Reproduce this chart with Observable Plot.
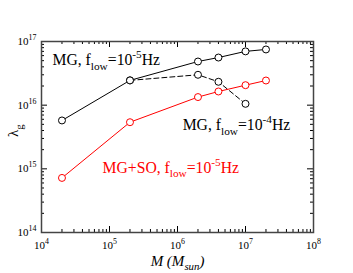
<!DOCTYPE html>
<html>
<head>
<meta charset="utf-8">
<script src="https://cdn.jsdelivr.net/npm/d3@7"></script>
<script src="https://cdn.jsdelivr.net/npm/@observablehq/plot@0.6"></script>
<style>
html,body{margin:0;padding:0;background:#fff;}
#chart svg{display:block;}
</style>
</head>
<body>
<div id="chart"></div>
<script>
// ---- data ----
const masses = [2e4, 2e5, 2e6, 4e6, 1e7, 2e7];
const mg5 = [5.75e15, 2.45e16, 4.85e16, 5.6e16, 7.0e16, 7.5e16];      // MG, f_low=1e-5 Hz
const mg4Masses = [2e5, 2e6, 4e6, 1e7];
const mg4 = [2.45e16, 3.0e16, 2.33e16, 1.05e16];                     // MG, f_low=1e-4 Hz (dashed)
const mgso5 = [7.2e14, 5.4e15, 1.34e16, 1.64e16, 2.06e16, 2.44e16];   // MG+SO, f_low=1e-5 Hz (red)

const xDecades = [1e4, 1e5, 1e6, 1e7, 1e8];
const yDecades = [1e14, 1e15, 1e16, 1e17];
const xLabels = ["10^{4}", "10^{5}", "10^{6}", "10^{7}", "10^{8}"];
const yLabels = ["10^{14}", "10^{15}", "10^{16}", "10^{17}"];

const annotations = [
  {x: 1.45e4, y: 4.3e16, text: "MG, f_{low}=10^{-5}Hz", color: "black"},
  {x: 1.19e6, y: 4.1e15, text: "MG, f_{low}=10^{-4}Hz", color: "black"},
  {x: 7.9e4, y: 8.7e14, text: "MG+SO, f_{low}=10^{-5}Hz", color: "red"}
];

// ---- tables ----
const mg5Data = masses.map((m, i) => ({m, v: mg5[i]}));
const mg4Data = mg4Masses.map((m, i) => ({m, v: mg4[i]}));
const soData = masses.map((m, i) => ({m, v: mgso5[i]}));

const minors = (decades) => {
  const out = [];
  for (let i = 0; i < decades.length - 1; i++)
    for (let k = 2; k <= 9; k++) out.push(decades[i] * k);
  return out;
};
const xMinor = minors(xDecades);
const yMinor = minors(yDecades);

const W = 353, H = 273;
const mL = 41, mR = 40, mT = 41, mB = 41;
const fw = W - mL - mR, fh = H - mT - mB;
const MAJ = 6, MIN = 3;
const serif = "'Liberation Serif', 'Times New Roman', serif";

const plot = Plot.plot({
  width: W, height: H,
  marginLeft: mL, marginRight: mR, marginTop: mT, marginBottom: mB,
  style: {fontFamily: serif, fontSize: "11px", background: "white"},
  x: {type: "log", domain: [1e4, 1e8]},
  y: {type: "log", domain: [1e14, 1e17]},
  marks: [
    // ticks inward on all four sides
    Plot.tickX(xDecades, {x: d => d, insetTop: fh - MAJ, stroke: "black"}),
    Plot.tickX(xDecades, {x: d => d, insetBottom: fh - MAJ, stroke: "black"}),
    Plot.tickX(xMinor, {x: d => d, insetTop: fh - MIN, stroke: "black"}),
    Plot.tickX(xMinor, {x: d => d, insetBottom: fh - MIN, stroke: "black"}),
    Plot.tickY(yDecades, {y: d => d, insetRight: fw - MAJ, stroke: "black"}),
    Plot.tickY(yDecades, {y: d => d, insetLeft: fw - MAJ, stroke: "black"}),
    Plot.tickY(yMinor, {y: d => d, insetRight: fw - MIN, stroke: "black"}),
    Plot.tickY(yMinor, {y: d => d, insetLeft: fw - MIN, stroke: "black"}),
    Plot.axisX({ticks: xDecades, tickSize: 0, tickPadding: 9, tickFormat: d => xLabels[xDecades.indexOf(d)], label: null, fontSize: 11}),
    Plot.axisY({ticks: yDecades, tickSize: 0, tickPadding: 5, tickFormat: d => yLabels[yDecades.indexOf(d)], label: null, fontSize: 11}),
    Plot.frame({stroke: "#444", strokeWidth: 1.5}),
    // series
    Plot.line(mg4Data, {x: "m", y: "v", stroke: "black", strokeWidth: 1, strokeDasharray: "5,3"}),
    Plot.line(mg5Data, {x: "m", y: "v", stroke: "black", strokeWidth: 1}),
    Plot.line(soData, {x: "m", y: "v", stroke: "red", strokeWidth: 1}),
    Plot.dot(mg4Data, {x: "m", y: "v", r: 3.5, stroke: "black", fill: "white", strokeWidth: 1}),
    Plot.dot(mg5Data, {x: "m", y: "v", r: 3.5, stroke: "black", fill: "white", strokeWidth: 1}),
    Plot.dot(soData, {x: "m", y: "v", r: 3.5, stroke: "red", fill: "white", strokeWidth: 1}),
    // annotations
    Plot.text(annotations, {x: "x", y: "y", text: "text", fill: "color", textAnchor: "start", lineAnchor: "bottom", fontSize: 15.7}),
    // axis titles
    Plot.text(["M (M_{sun})"], {frameAnchor: "bottom", dy: 33, fontSize: 15, fontStyle: "italic", text: d => d, lineAnchor: "bottom"}),
    Plot.text(["λ_{g}"], {frameAnchor: "left", dx: -28, rotate: -90, fontSize: 15, text: d => d})
  ]
});

document.getElementById("chart").appendChild(plot);

// convert ^{..} and _{..} markup into tspans
function rich(el) {
  const s = el.textContent;
  if (!/[\^_]\{/.test(s)) return;
  const fs = parseFloat(getComputedStyle(el).fontSize) || 11;
  const parts = [];
  const re = /([\^_])\{([^}]*)\}/g;
  let last = 0, m;
  while ((m = re.exec(s))) {
    if (m.index > last) parts.push({t: s.slice(last, m.index), k: ""});
    parts.push({t: m[2], k: m[1]});
    last = re.lastIndex;
  }
  if (last < s.length) parts.push({t: s.slice(last), k: ""});
  el.textContent = "";
  let offset = 0;
  const sel = d3.select(el);
  for (const p of parts) {
    const target = p.k === "^" ? -0.45 * fs : p.k === "_" ? 0.3 * fs : 0;
    const ts = sel.append("tspan").text(p.t).attr("dy", target - offset);
    if (p.k) ts.attr("font-size", (0.72 * fs).toFixed(1) + "px");
    offset = target;
  }
}
d3.select(plot).selectAll("text").each(function() { rich(this); });
</script>
</body>
</html>
